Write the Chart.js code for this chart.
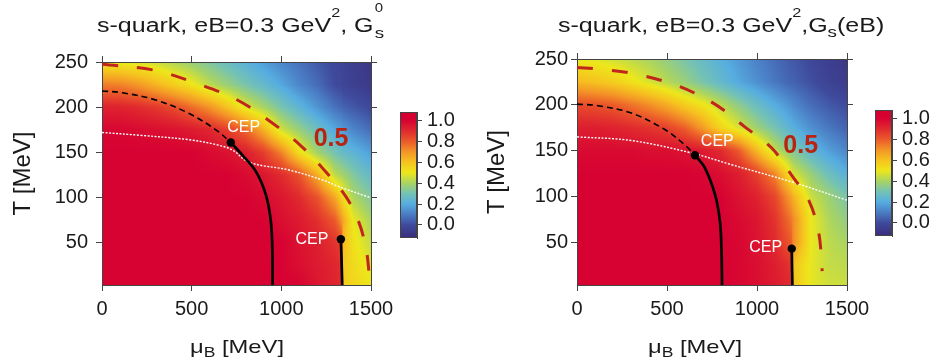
<!DOCTYPE html>
<html>
<head>
<meta charset="utf-8">
<script src="https://cdn.jsdelivr.net/npm/chart.js@4.4.1/dist/chart.umd.min.js"></script>
<style>
html, body { margin: 0; padding: 0; background: #fff; }
#wrap { position: relative; width: 936px; height: 359px; overflow: hidden;
        font-family: 'Liberation Sans', Arial, sans-serif; color: #1a1a1a; }
canvas { position: absolute; }
.txt { position: absolute; white-space: nowrap; font-size: 20px; line-height: 20px;
       transform: scaleX(1.25); transform-origin: left top; }
.up { position: relative; font-size: 13px; top: -15px; }
.ss { display: inline-block; position: relative; width: 9px; height: 10px; }
.ss .a { position: absolute; left: 1px; top: -20px; font-size: 12px; line-height: 12px; }
.ss .b { position: absolute; left: 1px; top: 3px; font-size: 15px; line-height: 15px; }
.dn { position: relative; font-size: 15px; top: 5px; }
.xl { font-size: 19px; line-height: 19px; }
.xl sub { font-size: 14px; position: relative; top: 4px; vertical-align: baseline; }
</style>
</head>
<body>
<div id="wrap">
  <canvas id="mainL" width="468" height="359" style="left:0;top:0"></canvas>
  <canvas id="mainR" width="468" height="359" style="left:468px;top:0"></canvas>
  <canvas id="cbL" width="66" height="160" style="left:395px;top:95px"></canvas>
  <canvas id="cbR" width="66" height="160" style="left:870px;top:93px"></canvas>

  <div class="txt" style="left:97px;top:15px">s-quark, eB=0.3 GeV<span class="up">2</span>, G<span class="ss"><span class="a">0</span><span class="b">s</span></span></div>
  <div class="txt" style="left:558px;top:15px">s-quark, eB=0.3 GeV<span class="up">2</span>,G<span class="dn">s</span>(eB)</div>
  <div class="txt xl" style="left:190px;top:337px">μ<sub>B</sub> [MeV]</div>
  <div class="txt xl" style="left:648px;top:337px">μ<sub>B</sub> [MeV]</div>
</div>

<script>
// axis ticks
const xTicks = [0, 500, 1000, 1500];
const yTicks = [50, 100, 150, 200, 250];
const cbTicks = [0, 0.2, 0.4, 0.6, 0.8, 1.0];

// grid of the colour field (rows: T, columns: muB)
const tGrid = [0, 25, 50, 75, 100, 125, 150, 175, 200, 225, 250];

const muGridL = [0, 100, 200, 300, 400, 500, 600, 700, 800, 900, 1000, 1100, 1200, 1300, 1335, 1345, 1400, 1500];
const fieldL = [
    [1, 1, 1, 1, 1, 1, 1, 1, 1, 1, 1, 1, 0.95, 0.92, 0.90, 0.57, 0.55, 0.51],
    [1, 1, 1, 1, 1, 1, 1, 1, 1, 1, 1, 0.97, 0.94, 0.91, 0.89, 0.58, 0.54, 0.48],
    [1, 1, 1, 1, 1, 1, 1, 1, 1, 1, 1, 0.96, 0.93, 0.88, 0.85, 0.62, 0.52, 0.44],
    [1, 1, 1, 1, 1, 1, 1, 1, 1, 1, 0.97, 0.94, 0.89, 0.80, 0.70, 0.66, 0.50, 0.40],
    [1, 1, 1, 1, 1, 1, 1, 1, 1, 0.98, 0.95, 0.90, 0.82, 0.66, 0.56, 0.53, 0.41, 0.33],
    [1, 1, 1, 1, 1, 1, 1, 1, 0.98, 0.95, 0.90, 0.82, 0.65, 0.43, 0.40, 0.39, 0.33, 0.25],
    [1, 1, 1, 1, 1, 1, 0.98, 0.96, 0.93, 0.86, 0.73, 0.53, 0.39, 0.30, 0.27, 0.26, 0.23, 0.17],
    [0.99, 0.99, 0.98, 0.97, 0.96, 0.94, 0.91, 0.86, 0.78, 0.64, 0.46, 0.37, 0.28, 0.19, 0.17, 0.16, 0.12, 0.07],
    [0.92, 0.92, 0.90, 0.87, 0.83, 0.77, 0.70, 0.60, 0.48, 0.40, 0.31, 0.23, 0.15, 0.08, 0.06, 0.05, 0.03, -0.01],
    [0.74, 0.73, 0.69, 0.63, 0.57, 0.51, 0.43, 0.37, 0.31, 0.25, 0.19, 0.12, 0.07, 0.00, -0.01, -0.02, -0.04, -0.07],
    [0.50, 0.49, 0.47, 0.45, 0.41, 0.37, 0.32, 0.27, 0.22, 0.17, 0.12, 0.08, 0.03, -0.01, -0.02, -0.03, -0.05, -0.08],
];

const muGridR = [0, 100, 200, 300, 400, 500, 600, 700, 800, 900, 1000, 1100, 1190, 1200, 1300, 1400, 1500];
const fieldR = [
    [1, 1, 1, 1, 1, 1, 1, 1, 1, 0.99, 0.97, 0.94, 0.90, 0.60, 0.49, 0.46, 0.45],
    [1, 1, 1, 1, 1, 1, 1, 1, 1, 0.99, 0.97, 0.93, 0.88, 0.60, 0.49, 0.44, 0.43],
    [1, 1, 1, 1, 1, 1, 1, 1, 1, 0.99, 0.96, 0.90, 0.80, 0.72, 0.50, 0.43, 0.40],
    [1, 1, 1, 1, 1, 1, 1, 1, 1, 0.98, 0.95, 0.88, 0.75, 0.72, 0.50, 0.41, 0.36],
    [1, 1, 1, 1, 1, 1, 1, 1, 1, 0.96, 0.92, 0.84, 0.67, 0.64, 0.45, 0.38, 0.31],
    [1, 1, 1, 1, 1, 1, 1, 0.99, 0.97, 0.93, 0.85, 0.72, 0.50, 0.47, 0.37, 0.28, 0.21],
    [0.98, 0.98, 0.98, 0.98, 0.97, 0.97, 0.96, 0.94, 0.90, 0.80, 0.62, 0.44, 0.34, 0.33, 0.24, 0.17, 0.12],
    [0.93, 0.93, 0.92, 0.90, 0.88, 0.85, 0.79, 0.68, 0.55, 0.47, 0.38, 0.30, 0.22, 0.21, 0.14, 0.09, 0.05],
    [0.83, 0.82, 0.80, 0.76, 0.71, 0.65, 0.57, 0.51, 0.43, 0.35, 0.27, 0.20, 0.14, 0.13, 0.07, 0.03, 0.00],
    [0.62, 0.60, 0.57, 0.52, 0.47, 0.42, 0.37, 0.31, 0.25, 0.19, 0.14, 0.09, 0.05, 0.05, 0.01, -0.03, -0.06],
    [0.49, 0.48, 0.46, 0.43, 0.40, 0.36, 0.31, 0.26, 0.21, 0.16, 0.11, 0.07, 0.03, 0.03, -0.01, -0.05, -0.08],
];

// lines [muB, T]
const crossoverL = [[0, 218], [113, 216], [300, 208], [486, 193], [635, 175], [718, 161]];
const firstOrderL = [[718, 161], [783, 147], [858, 129], [914, 103], [942, 73], [950, 40], [951, 0]];
const firstOrder2L = [[1332, 54], [1336, 30], [1340, 0]];
const cepL = [[718, 161], [1332, 54]];
const dottedL = [[0, 172], [207, 169], [486, 164], [650, 158], [728, 152.5], [821, 139], [1044, 130.5], [1230, 119.5], [1323, 112], [1481, 101], [1500, 100]];
const halfL = [[0, 247.4], [290, 241], [551, 224.6], [755, 208], [932, 185], [1100, 159], [1239, 130.5], [1360, 101], [1431, 73.4], [1472, 44], [1490, 14], [1492, 0]];

const crossoverR = [[0, 200.7], [117, 199], [302, 191], [488, 173], [600, 156], [655, 145]];
const firstOrderR = [[655, 145], [711, 131], [767, 102], [794, 73], [803, 40], [806, 0]];
const firstOrder2R = [[1193, 43], [1195, 20], [1197, 0]];
const cepR = [[655, 145], [1193, 43]];
const dottedR = [[0, 165], [302, 161], [637, 147.4], [859, 134.6], [1212, 114.7], [1490, 96.5], [1500, 96]];
const halfR = [[0, 240.7], [117, 239], [302, 234.5], [544, 221.8], [757, 201.8], [934, 175.7], [1082, 152.8], [1193, 123], [1290, 94.7], [1342, 61.3], [1360, 27.5], [1362, 18.4]];

// colour scale
const cmapVals = [-0.125, 0.0, 0.1, 0.2, 0.3, 0.4, 0.5, 0.6, 0.7, 0.8, 0.9, 1.0, 1.08];
const cmapCols = ['#3a2c7c', '#3f4a9c', '#4a7cc4', '#56ade0', '#74c2b4', '#a9d462', '#ede71b',
                  '#f6c21f', '#f39427', '#eb5a2a', '#e02a2e', '#d70232', '#d5002f'];

const FONT = "'Liberation Sans', Arial, sans-serif";
const INK = '#1a1a1a';
const FRAME = '#444';

const cmapRgb = cmapCols.map(h => [1, 3, 5].map(i => parseInt(h.substr(i, 2), 16)));

function locate(arr, v) {
    if (v <= arr[0]) return [0, 0];
    for (let i = 0; i < arr.length - 1; i++) {
        if (v <= arr[i + 1]) return [i, (v - arr[i]) / (arr[i + 1] - arr[i])];
    }
    return [arr.length - 2, 1];
}

function colorAt(v) {
    const [i, f] = locate(cmapVals, v);
    const a = cmapRgb[i], b = cmapRgb[i + 1];
    return [0, 1, 2].map(k => Math.round(a[k] + (b[k] - a[k]) * f));
}

function sample(mu, t, z, m, tt) {
    const [i, fx] = locate(mu, m);
    const [j, fy] = locate(t, tt);
    const lo = z[j][i] * (1 - fx) + z[j][i + 1] * fx;
    const hi = z[j + 1][i] * (1 - fx) + z[j + 1][i + 1] * fx;
    return lo * (1 - fy) + hi * fy;
}

// paints the field (or the colour bar) under the axes
const heatmap = {
    id: 'heatmap',
    beforeDraw(chart, args, opts) {
        if (!opts.field && !opts.bar) return;
        const { ctx, chartArea: a, scales: { x, y } } = chart;
        const w = Math.round(a.right - a.left), h = Math.round(a.bottom - a.top);
        const off = document.createElement('canvas');
        off.width = w; off.height = h;
        const octx = off.getContext('2d');
        const img = octx.createImageData(w, h);
        for (let j = 0; j < h; j++) {
            const t = y.getValueForPixel(a.top + j + 0.5);
            for (let i = 0; i < w; i++) {
                const v = opts.bar ? t : sample(opts.mu, tGrid, opts.field, x.getValueForPixel(a.left + i + 0.5), t);
                const c = colorAt(v);
                const k = (j * w + i) * 4;
                img.data[k] = c[0]; img.data[k + 1] = c[1]; img.data[k + 2] = c[2]; img.data[k + 3] = 255;
            }
        }
        octx.putImageData(img, 0, 0);
        ctx.drawImage(off, a.left, a.top);
    },
    afterDraw(chart, args, opts) {
        if (!opts.bar) return;
        const { ctx, chartArea: a } = chart;
        ctx.save();
        ctx.strokeStyle = FRAME;
        ctx.lineWidth = 1;
        ctx.strokeRect(a.left + 0.5, a.top + 0.5, a.right - a.left - 1, a.bottom - a.top - 1);
        ctx.restore();
    },
};

// CEP and 0.5 labels
const marks = {
    id: 'marks',
    afterDatasetsDraw(chart, args, opts) {
        if (!opts.cep) return;
        const { ctx, scales: { x, y } } = chart;
        ctx.save();
        ctx.textAlign = 'center';
        ctx.textBaseline = 'middle';
        ctx.fillStyle = '#fff';
        ctx.font = '16px ' + FONT;
        opts.cep.forEach((p, k) => {
            ctx.fillText('CEP', x.getPixelForValue(p[0]) + opts.cepShift[k][0], y.getPixelForValue(p[1]) + opts.cepShift[k][1]);
        });
        ctx.fillStyle = '#b8240f';
        ctx.font = 'bold 25px ' + FONT;
        ctx.fillText('0.5', x.getPixelForValue(opts.halfAt[0]), y.getPixelForValue(opts.halfAt[1]));
        ctx.restore();
    },
};

Chart.register(heatmap, marks);

const pts = arr => arr.map(([x, y]) => ({ x, y }));

function lineSet(arr, color, width, dash) {
    return {
        data: pts(arr), showLine: true, pointRadius: 0, borderColor: color,
        borderWidth: width, borderDash: dash, tension: 0.35, fill: false,
        borderCapStyle: 'butt', borderJoinStyle: 'round',
    };
}

function axis(pos, min, max, ticks, size, label) {
    const horiz = pos === 'top' || pos === 'bottom';
    return {
        type: 'linear', position: pos, min, max,
        afterBuildTicks: s => { s.ticks = ticks.map(v => ({ value: v })); },
        afterFit: s => { if (horiz) s.height = size; else s.width = size; },
        ticks: {
            display: !!label, color: INK, font: { family: FONT, size: 20 }, autoSkip: false,
            padding: label ? label.pad : 0, callback: v => String(v),
        },
        grid: { drawOnChartArea: false, drawTicks: true, tickLength: 6, color: FRAME },
        border: { display: true, color: FRAME, width: 1 },
        title: label && label.text ? {
            display: true, text: label.text, color: INK,
            font: { family: FONT, size: 24 }, padding: { top: label.titlePad, bottom: 0 },
        } : { display: false },
    };
}

function panel(id, p) {
    new Chart(document.getElementById(id), {
        type: 'scatter',
        data: {
            datasets: [
                { data: pts(p.cep), pointRadius: 4.2, pointBackgroundColor: '#000', pointBorderWidth: 0, showLine: false },
                lineSet(p.first, '#000', 2.7, []),
                lineSet(p.first2, '#000', 2.7, []),
                lineSet(p.cross, '#000', 1.6, [6, 4]),
                lineSet(p.half, '#c0261c', 3, [16, 19]),
                lineSet(p.dotted, '#fff', 1.4, [2, 1.5]),
            ],
        },
        options: {
            responsive: false, animation: false, devicePixelRatio: 1,
            layout: { padding: 0 },
            plugins: {
                legend: { display: false }, tooltip: { enabled: false },
                heatmap: { field: p.field, mu: p.mu },
                marks: { cep: p.cep, cepShift: p.cepShift, halfAt: p.halfAt },
            },
            scales: {
                x: axis('bottom', 0, 1500, xTicks, 74, { pad: 6 }),
                x2: axis('top', 0, 1500, xTicks, p.top),
                y: axis('left', 3.3, 250, yTicks, p.left, { pad: p.yPad, text: 'T [MeV]', titlePad: p.titlePad }),
                y2: axis('right', 3.3, 250, yTicks, p.right),
            },
        },
    });
}

function colorbar(id, top, bottom) {
    new Chart(document.getElementById(id), {
        type: 'scatter',
        data: { datasets: [] },
        options: {
            responsive: false, animation: false, devicePixelRatio: 1,
            layout: { padding: { left: 5, right: 0, top, bottom } },
            plugins: { legend: { display: false }, tooltip: { enabled: false }, heatmap: { bar: true } },
            scales: {
                x: { display: false, min: 0, max: 1 },
                y: {
                    type: 'linear', position: 'right', min: -0.125, max: 1.08,
                    afterBuildTicks: s => { s.ticks = cbTicks.map(v => ({ value: v })); },
                    afterFit: s => { s.width = 44; },
                    ticks: { color: INK, font: { family: FONT, size: 20 }, padding: 5, autoSkip: false, callback: v => v.toFixed(1) },
                    grid: { drawOnChartArea: false, tickLength: 5, color: FRAME },
                    border: { display: true, color: FRAME },
                },
            },
        },
    });
}

panel('mainL', {
    field: fieldL, mu: muGridL, cep: cepL, first: firstOrderL, first2: firstOrder2L,
    cross: crossoverL, half: halfL, dotted: dottedL,
    top: 62, left: 102, right: 97, yPad: 8, titlePad: 9,
    cepShift: [[13, -14.5], [-29, 0.7]], halfAt: [1277, 165],
});
panel('mainR', {
    field: fieldR, mu: muGridR, cep: cepR, first: firstOrderR, first2: firstOrder2R,
    cross: crossoverR, half: halfR, dotted: dottedR,
    top: 59, left: 109, right: 89, yPad: 3, titlePad: 15,
    cepShift: [[22.4, -13.2], [-26, -0.9]], halfAt: [1243, 155.4],
});
colorbar('cbL', 11, 15);
colorbar('cbR', 10, 15);
</script>
</body>
</html>
